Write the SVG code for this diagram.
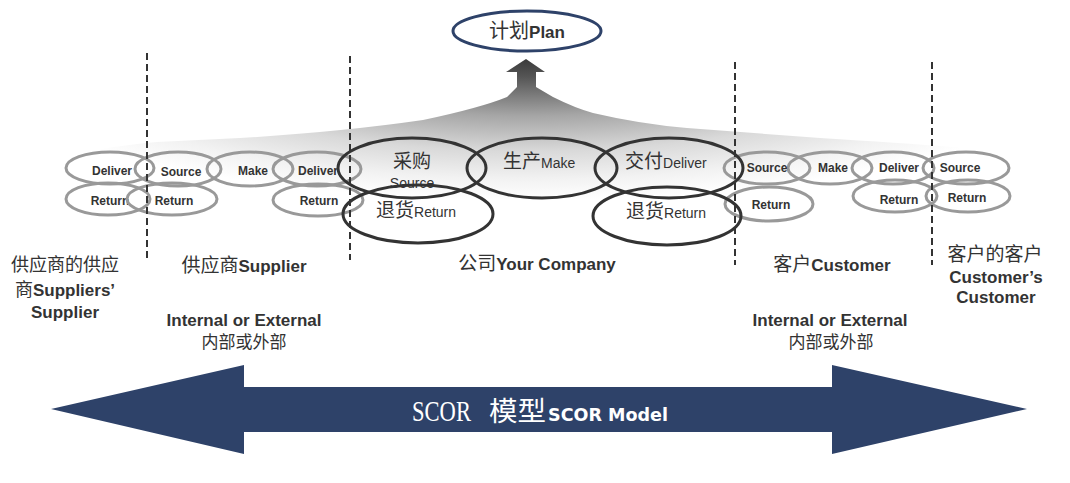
<svg xmlns="http://www.w3.org/2000/svg" width="1070" height="483" viewBox="0 0 1070 483">
<defs>
<radialGradient id="g" gradientUnits="userSpaceOnUse" cx="527" cy="60" r="140" gradientTransform="translate(527,60) scale(4,1) translate(-527,-60)">
<stop offset="0" stop-color="#3c3c3c"/>
<stop offset="0.12" stop-color="#555"/>
<stop offset="0.4" stop-color="#a6a6a6"/>
<stop offset="0.65" stop-color="#d9d9d9"/>
<stop offset="0.85" stop-color="#f2f2f2"/>
<stop offset="1" stop-color="#ffffff"/>
</radialGradient>
<style>
.s{fill:none;stroke:#999;stroke-width:3}
.b{fill:none;stroke:#333;stroke-width:3}
.st{font-family:"Liberation Sans",Arial,sans-serif;font-weight:bold;font-size:12px;fill:#333;text-anchor:middle}
.cj{font-family:"Noto Sans CJK SC",sans-serif;fill:#333}
.en{font-family:"Liberation Sans",Arial,sans-serif;fill:#333}
.lb{font-family:"Liberation Sans",Arial,sans-serif;font-weight:bold;font-size:17px;fill:#333}
.dash{stroke:#333;stroke-width:2;stroke-dasharray:7 4}
.mid{text-anchor:middle}
</style>
</defs>
<rect width="1070" height="483" fill="#fff"/>

<g id="connectors">
<path id="plan-arrow" fill="url(#g)" d="M62,160 Q90,148 157,142 L240,138 Q340,132 423,120 Q480,108 507,97 L517,87 L517,72 L506,72 L526,59 L545,72 L536,72 L536,87 L553,97 Q575,108 593,113 Q640,124 687,128 L820,138 Q900,143 953,147 Q995,150 1012,158 L1012,200 L62,200 Z"/>
<g id="scor-arrow">
<polygon fill="#2E4269" points="51,409 244,365 244,387 832,387 832,365 1027,409 832,454 832,432 244,432 244,454"/>
</g>
</g>

<g id="plan">
<ellipse cx="527" cy="31" rx="74" ry="20" fill="#fff" stroke="#2E4269" stroke-width="3"/>
<text x="527" y="38" class="mid"><tspan class="cj" font-size="20" fill="#333">计划</tspan><tspan class="lb" font-size="17" fill="#2b3550">Plan</tspan></text>
</g>

<g id="suppliers-supplier-process">
<ellipse class="s" cx="110" cy="168" rx="44" ry="16"/>
<ellipse class="s" cx="108" cy="199" rx="42" ry="16"/>
<text class="st" x="112" y="175">Deliver</text>
<text class="st" x="110" y="205">Return</text>
</g>

<g id="supplier-process">
<ellipse class="s" cx="178" cy="169" rx="43" ry="17"/>
<ellipse class="s" cx="172" cy="199" rx="45" ry="16"/>
<ellipse class="s" cx="250" cy="169" rx="43" ry="17"/>
<ellipse class="s" cx="317" cy="169" rx="44" ry="17"/>
<ellipse class="s" cx="318" cy="200" rx="45" ry="16"/>
<text class="st" x="181" y="176">Source</text>
<text class="st" x="174" y="205">Return</text>
<text class="st" x="253" y="175">Make</text>
<text class="st" x="318" y="175">Deliver</text>
<text class="st" x="319" y="205">Return</text>
</g>

<g id="customer-process">
<ellipse class="s" cx="767" cy="168" rx="43" ry="16"/>
<ellipse class="s" cx="830" cy="168" rx="42" ry="16"/>
<ellipse class="s" cx="893" cy="168" rx="41" ry="16"/>
<ellipse class="s" cx="769" cy="204" rx="44" ry="17"/>
<ellipse class="s" cx="895" cy="196" rx="42" ry="16"/>
<text class="st" x="767" y="172">Source</text>
<text class="st" x="833" y="172">Make</text>
<text class="st" x="899" y="172">Deliver</text>
<text class="st" x="771" y="209">Return</text>
<text class="st" x="899" y="204">Return</text>
</g>

<g id="customers-customer-process">
<ellipse class="s" cx="966" cy="168" rx="43" ry="16"/>
<ellipse class="s" cx="968" cy="196" rx="42" ry="16"/>
<text class="st" x="960" y="172">Source</text>
<text class="st" x="967" y="202">Return</text>
</g>

<g id="company-process">
<ellipse class="b" cx="412" cy="168" rx="74" ry="30"/>
<ellipse class="b" cx="542" cy="168" rx="75" ry="30"/>
<ellipse class="b" cx="669" cy="168" rx="74" ry="30"/>
<ellipse class="b" cx="418" cy="214" rx="75" ry="29"/>
<ellipse class="b" cx="667" cy="216" rx="74" ry="29"/>
<text class="cj mid" x="412" y="168" font-size="19">采购</text>
<text class="en mid" x="412" y="188" font-size="14">Source</text>
<text x="503" y="168"><tspan class="cj" font-size="19">生产</tspan><tspan class="en" font-size="14">Make</tspan></text>
<text x="625" y="168"><tspan class="cj" font-size="19">交付</tspan><tspan class="en" font-size="14">Deliver</tspan></text>
<text x="376" y="217"><tspan class="cj" font-size="19">退货</tspan><tspan class="en" font-size="14">Return</tspan></text>
<text x="626" y="218"><tspan class="cj" font-size="19">退货</tspan><tspan class="en" font-size="14">Return</tspan></text>
</g>

<g id="dividers">
<line class="dash" x1="147" y1="53" x2="147" y2="258"/>
<line class="dash" x1="350" y1="56" x2="350" y2="260"/>
<line class="dash" x1="735" y1="62" x2="735" y2="265"/>
<line class="dash" x1="932" y1="62" x2="932" y2="265"/>
</g>

<g id="label-suppliers-supplier">
<text class="cj mid" x="65" y="271" font-size="18">供应商的供应</text>
<text x="65" y="296" class="mid"><tspan class="cj" font-size="18">商</tspan><tspan class="lb" font-size="16">Suppliers’</tspan></text>
<text class="lb mid" x="65" y="318" font-size="16">Supplier</text>
</g>

<g id="label-supplier">
<text x="244" y="272" class="mid"><tspan class="cj" font-size="19">供应商</tspan><tspan class="lb">Supplier</tspan></text>
<text class="lb mid" x="244" y="326">Internal or External</text>
<text class="cj mid" x="244" y="348" font-size="17">内部或外部</text>
</g>

<g id="label-company">
<text x="537" y="270" class="mid"><tspan class="cj" font-size="19">公司</tspan><tspan class="lb">Your Company</tspan></text>
</g>

<g id="label-customer">
<text x="832" y="271" class="mid"><tspan class="cj" font-size="19">客户</tspan><tspan class="lb">Customer</tspan></text>
<text class="lb mid" x="830" y="326">Internal or External</text>
<text class="cj mid" x="831" y="348" font-size="17">内部或外部</text>
</g>

<g id="label-customers-customer">
<text class="cj mid" x="995" y="261" font-size="19">客户的客户</text>
<text class="lb mid" x="996" y="283">Customer’s</text>
<text class="lb mid" x="996" y="303">Customer</text>
</g>

<g id="scor-label">
<text x="412" y="421" font-family="'Liberation Serif',serif" font-size="29" fill="#fff" textLength="59" lengthAdjust="spacingAndGlyphs">SCOR</text>
<text x="489" y="421" font-family="'Noto Sans CJK SC',sans-serif" font-size="27" fill="#fff" textLength="57" lengthAdjust="spacingAndGlyphs">模型</text>
<text x="548" y="421" font-family="'DejaVu Sans',sans-serif" font-weight="bold" font-size="17" fill="#fff" textLength="120" lengthAdjust="spacingAndGlyphs">SCOR Model</text>
</g>
</svg>
